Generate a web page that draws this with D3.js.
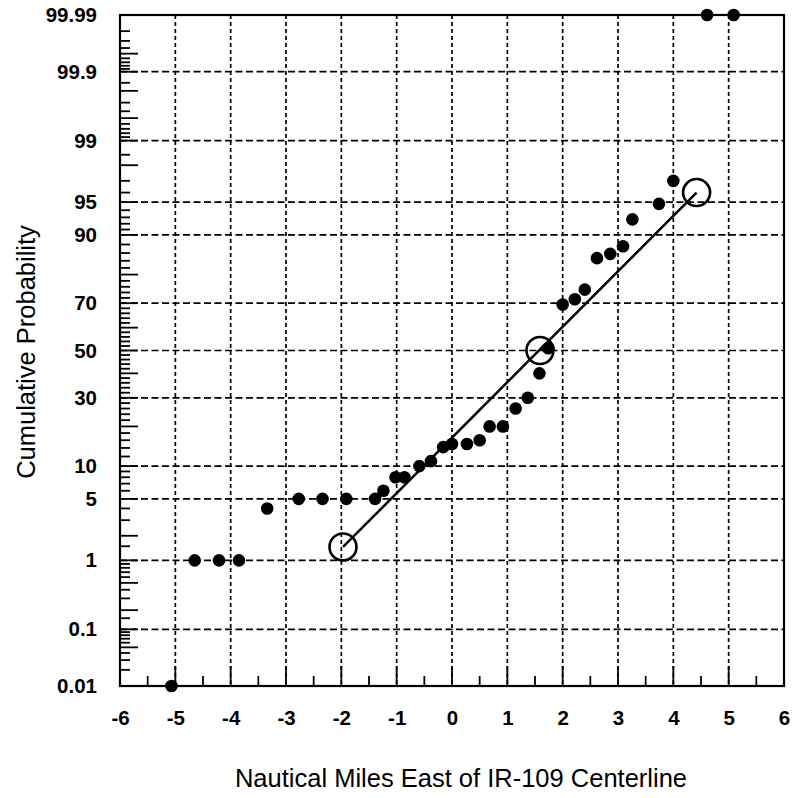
<!DOCTYPE html>
<html>
<head>
<meta charset="utf-8">
<script src="https://cdn.jsdelivr.net/npm/d3@7"></script>
<style>
  html, body { margin: 0; padding: 0; background: #fff; }
  svg { display: block; }
</style>
</head>
<body>
<svg id="chart" width="796" height="798"></svg>
<script>
// ---------------- data ----------------
const obsX = [-5.07, -4.65, -4.21, -3.85, -3.34, -2.77, -2.34, -1.91, -1.39, -1.24,
              -1.02, -0.86, -0.59, -0.38, -0.16, 0.0, 0.27, 0.50, 0.68, 0.92,
              1.15, 1.37, 1.58, 1.74, 2.0, 2.22, 2.40, 2.62, 2.86, 3.09,
              3.26, 3.74, 4.0, 4.61, 5.09];
const obsP = [0.01, 1, 1, 1, 4, 5, 5, 5, 5, 6,
              8, 8, 10, 11, 14.2, 15, 15, 16, 20, 20,
              26, 30, 40, 51, 69.5, 71.5, 75, 84.7, 85.8, 87.6,
              92.7, 94.8, 97.0, 99.99, 99.99];
const fitX = [-1.97, 1.59, 4.42];
const fitP = [1.47, 50, 96.0];

const xTicks = [-6, -5, -4, -3, -2, -1, 0, 1, 2, 3, 4, 5, 6];
const yTickLabels = ["0.01", "0.1", "1", "5", "10", "30", "50", "70", "90", "95", "99", "99.9", "99.99"];
const yGridP = [0.1, 1, 5, 10, 30, 50, 70, 90, 95, 99, 99.9];
const yShortLow = [0.02, 0.03, 0.04, 0.06, 0.07, 0.08, 0.09, 0.15, 0.3, 0.4, 0.6, 0.7, 0.8, 0.9,
                   1.5, 3, 4, 6, 7, 8, 9, 12, 14, 16, 18, 22, 24, 26, 28, 32, 34, 36, 38, 42, 44, 46, 48];
const yLongLow = [0.05, 0.2, 0.5, 2, 20, 40];
const xTitle = "Nautical Miles East of IR-109 Centerline";
const yTitle = "Cumulative Probability";

// ------------- inverse normal CDF (probability scale transform) -------------
function probit(p) {
  const a = [-3.969683028665376e+01, 2.209460984245205e+02, -2.759285104469687e+02, 1.383577518672690e+02, -3.066479806614716e+01, 2.506628277459239e+00];
  const b = [-5.447609879822406e+01, 1.615858368580409e+02, -1.556989798598866e+02, 6.680131188771972e+01, -1.328068155288572e+01];
  const c = [-7.784894002430293e-03, -3.223964580411365e-01, -2.400758277161838e+00, -2.549732539343734e+00, 4.374664141464968e+00, 2.938163982698783e+00];
  const d = [7.784695709041462e-03, 3.224671290700398e-01, 2.445134137142996e+00, 3.754408661907416e+00];
  const plow = 0.02425, phigh = 1 - plow;
  let q, r;
  if (p < plow) {
    q = Math.sqrt(-2 * Math.log(p));
    return (((((c[0]*q+c[1])*q+c[2])*q+c[3])*q+c[4])*q+c[5]) / ((((d[0]*q+d[1])*q+d[2])*q+d[3])*q+1);
  }
  if (p <= phigh) {
    q = p - 0.5; r = q * q;
    return (((((a[0]*r+a[1])*r+a[2])*r+a[3])*r+a[4])*r+a[5])*q / (((((b[0]*r+b[1])*r+b[2])*r+b[3])*r+b[4])*r+1);
  }
  q = Math.sqrt(-2 * Math.log(1 - p));
  return -(((((c[0]*q+c[1])*q+c[2])*q+c[3])*q+c[4])*q+c[5]) / ((((d[0]*q+d[1])*q+d[2])*q+d[3])*q+1);
}

// ---------------- layout ----------------
const L = 120, R = 784, T = 15, B = 686;
const FONT = "'Liberation Sans', Arial, sans-serif";
const svg = d3.select("#chart");
svg.append("rect").attr("width", 796).attr("height", 798).attr("fill", "#fff");

const x = d3.scaleLinear().domain([-6, 6]).range([L, R]);
const zScale = d3.scaleLinear().domain([probit(0.0001), probit(0.9999)]).range([B, T]);
const y = p => zScale(probit(p / 100));

// grid
const grid = svg.append("g").attr("stroke", "#000").attr("stroke-width", 1.7).attr("fill", "none");
grid.selectAll("line.h").data(yGridP).join("line").attr("class", "h")
  .attr("x1", L).attr("x2", R).attr("y1", d => y(d)).attr("y2", d => y(d))
  .attr("stroke-dasharray", "7,3.5");
grid.selectAll("line.v").data(xTicks.filter(d => d > -6 && d < 6)).join("line")
  .attr("class", "v")
  .attr("x1", d => x(d)).attr("x2", d => x(d)).attr("y1", T).attr("y2", B)
  .attr("stroke-dasharray", "4,3");

// y ticks (inward)
const yt = svg.append("g").attr("stroke", "#000").attr("stroke-width", 1.8);
const shortAll = yShortLow.concat(yShortLow.map(p => +(100 - p).toFixed(4)));
const longAll = yLongLow.concat(yLongLow.map(p => +(100 - p).toFixed(4)));
yt.selectAll("line.s").data(shortAll).join("line").attr("class", "s")
  .attr("x1", L).attr("x2", L + 10).attr("y1", d => y(d)).attr("y2", d => y(d));
yt.selectAll("line.l").data(longAll.concat(yGridP)).join("line").attr("class", "l")
  .attr("x1", L).attr("x2", L + 18).attr("y1", d => y(d)).attr("y2", d => y(d));

// x ticks (inward, from bottom)
const xt = svg.append("g").attr("stroke", "#000").attr("stroke-width", 1.8);
xt.selectAll("line.M").data(xTicks).join("line").attr("class", "M")
  .attr("x1", d => x(d)).attr("x2", d => x(d)).attr("y1", B).attr("y2", B - 20);
xt.selectAll("line.m").data(xTicks.slice(0, -1).map(d => d + 0.5)).join("line").attr("class", "m")
  .attr("x1", d => x(d)).attr("x2", d => x(d)).attr("y1", B).attr("y2", B - 10);

// frame
svg.append("rect").attr("x", L).attr("y", T).attr("width", R - L).attr("height", B - T)
  .attr("fill", "none").attr("stroke", "#000").attr("stroke-width", 2.2);

// axes labels via d3 axes
const xAxis = d3.axisBottom(x).tickValues(xTicks).tickFormat(d => String(d)).tickSize(0).tickPadding(0);
const gx = svg.append("g").attr("transform", `translate(0,${B + 24})`).call(xAxis);
gx.select(".domain").remove();
gx.selectAll("text").attr("font-family", FONT)
  .attr("font-size", 20.5).attr("font-weight", "bold").attr("fill", "#000").attr("dy", "0.71em");

const yAxis = d3.axisLeft(zScale)
  .tickValues(yTickLabels.map(s => probit(+s / 100)))
  .tickFormat((d, i) => yTickLabels[i]).tickSize(0).tickPadding(0);
const gy = svg.append("g").attr("transform", `translate(${L - 23},0)`).call(yAxis);
gy.select(".domain").remove();
gy.selectAll("text").attr("font-family", FONT)
  .attr("font-size", 20.5).attr("font-weight", "bold").attr("fill", "#000");

// titles
svg.append("text").attr("x", 461).attr("y", 787).attr("text-anchor", "middle")
  .attr("font-family", FONT).attr("font-size", 25.5)
  .attr("fill", "#000").text(xTitle);
svg.append("text").attr("transform", `translate(35,352) rotate(-90)`).attr("text-anchor", "middle")
  .attr("font-family", FONT).attr("font-size", 25.5)
  .attr("fill", "#000").text(yTitle);

// fitted line
const fit = fitX.map((v, i) => [v, fitP[i]]);
svg.append("line")
  .attr("x1", x(fit[0][0])).attr("y1", y(fit[0][1]))
  .attr("x2", x(fit[2][0])).attr("y2", y(fit[2][1]))
  .attr("stroke", "#000").attr("stroke-width", 2.5);
svg.append("g").selectAll("circle").data(fit).join("circle")
  .attr("cx", d => x(d[0])).attr("cy", d => y(d[1])).attr("r", 13.5)
  .attr("fill", "none").attr("stroke", "#000").attr("stroke-width", 2.6);

// observations
svg.append("g").selectAll("circle").data(obsX.map((v, i) => [v, obsP[i]])).join("circle")
  .attr("cx", d => x(d[0])).attr("cy", d => y(d[1])).attr("r", 6.3)
  .attr("fill", "#000");
</script>
</body>
</html>
